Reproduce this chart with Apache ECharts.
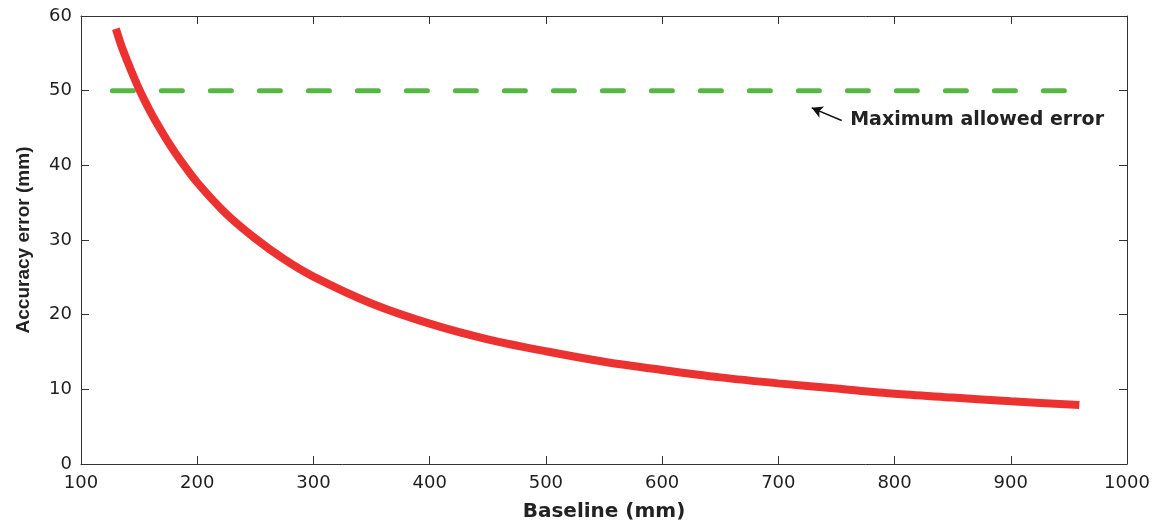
<!DOCTYPE html>
<html>
<head>
<meta charset="utf-8">
<script src="https://cdn.jsdelivr.net/npm/echarts@6/dist/echarts.min.js"></script>
<style>
    html, body { margin: 0; padding: 0; background: #fff; }
    #chart { width: 1162px; height: 527px; }
</style>
</head>
<body>
<div id="chart"></div>
<script>
// baseline (mm) and accuracy error (mm)
const baseline = [130, 135, 140, 145, 150, 155, 160, 165, 175, 185, 200, 225, 250, 275, 300, 350, 400, 450, 500, 550, 600, 650, 700, 750, 800, 850, 900, 959];
const accError = [58.3, 55.9, 53.9, 52, 50.2, 48.6, 47.1, 45.7, 43.1, 40.8, 37.7, 33.5, 30.2, 27.4, 25.1, 21.5, 18.8, 16.7, 15.1, 13.7, 12.6, 11.6, 10.8, 10.1, 9.4, 8.9, 8.4, 7.9];

// maximum allowed error line
const limitX = [127, 960];
const limitY = [50, 50];

// annotation
const noteText = 'Maximum allowed error';
const arrowFrom = [754.5, 46.0];
const arrowTo = [728.7, 47.7];
const notePos = [761.8, 46.0];

const xTicks = { min: 100, max: 1000, interval: 100 };
const yTicks = { min: 0, max: 60, interval: 10 };

const tickFont = { fontFamily: 'DejaVu Sans', fontSize: 18, color: '#1e1e1e' };
const axisStroke = { color: '#333', width: 1 };

const chart = echarts.init(document.getElementById('chart'), null, { renderer: 'canvas' });

const mainData = baseline.map((b, i) => [b, accError[i]]);
const limitData = limitX.map((x, i) => [x, limitY[i]]);

const option = {
    animation: false,
    backgroundColor: '#fff',
    grid: { left: 81, right: 35, top: 16, bottom: 63, show: false },
    xAxis: [
        {
            type: 'value', position: 'bottom',
            min: xTicks.min, max: xTicks.max, interval: xTicks.interval,
            name: 'Baseline (mm)', nameLocation: 'middle', nameGap: 38,
            nameTextStyle: { fontFamily: 'DejaVu Sans', fontWeight: 'bold', fontSize: 20, color: '#222' },
            axisLine: { show: true, onZero: false, lineStyle: axisStroke },
            axisTick: { show: true, inside: true, length: 8, lineStyle: axisStroke },
            axisLabel: Object.assign({ margin: 10, showMinLabel: true, showMaxLabel: true, formatter: v => String(v) }, tickFont),
            splitLine: { show: false }
        },
        {
            type: 'value', position: 'top',
            min: xTicks.min, max: xTicks.max, interval: xTicks.interval,
            axisLine: { show: true, onZero: false, lineStyle: axisStroke },
            axisTick: { show: true, inside: true, length: 8, lineStyle: axisStroke },
            axisLabel: { show: false },
            splitLine: { show: false }
        }
    ],
    yAxis: [
        {
            type: 'value', position: 'left',
            min: yTicks.min, max: yTicks.max, interval: yTicks.interval,
            name: 'Accuracy error (mm)', nameLocation: 'middle', nameGap: 48, nameRotate: 90,
            nameTextStyle: { fontFamily: 'Liberation Sans', fontWeight: 'bold', fontSize: 19, color: '#222' },
            axisLine: { show: true, onZero: false, lineStyle: axisStroke },
            axisTick: { show: true, inside: true, length: 8, lineStyle: axisStroke },
            axisLabel: Object.assign({ margin: 9 }, tickFont),
            splitLine: { show: false }
        },
        {
            type: 'value', position: 'right',
            min: yTicks.min, max: yTicks.max, interval: yTicks.interval,
            axisLine: { show: true, onZero: false, lineStyle: axisStroke },
            axisTick: { show: true, inside: true, length: 8, lineStyle: axisStroke },
            axisLabel: { show: false },
            splitLine: { show: false }
        }
    ],
    series: [
        {
            name: 'limit',
            type: 'line',
            data: limitData,
            showSymbol: false,
            symbol: 'none',
            lineStyle: { color: '#57b646', width: 5, type: [21, 28], cap: 'round' },
            z: 2,
            markLine: {
                silent: true,
                symbol: ['none', 'arrow'],
                symbolSize: [9, 11],
                label: { show: false },
                lineStyle: { color: '#111', width: 1.5, type: 'solid' },
                data: [[{ coord: arrowFrom }, { coord: arrowTo }]]
            },
            markPoint: {
                silent: true,
                symbol: 'circle',
                symbolSize: 0,
                label: {
                    show: true, position: 'right', distance: 0,
                    formatter: noteText,
                    fontFamily: 'DejaVu Sans', fontWeight: 'bold', fontSize: 19, color: '#222'
                },
                data: [{ coord: notePos }]
            }
        },
        {
            name: 'error',
            type: 'line',
            data: mainData,
            smooth: 0.3,
            showSymbol: false,
            symbol: 'none',
            lineStyle: { color: '#ec3131', width: 8, cap: 'butt' },
            z: 3
        }
    ]
};

chart.setOption(option);
</script>
</body>
</html>
